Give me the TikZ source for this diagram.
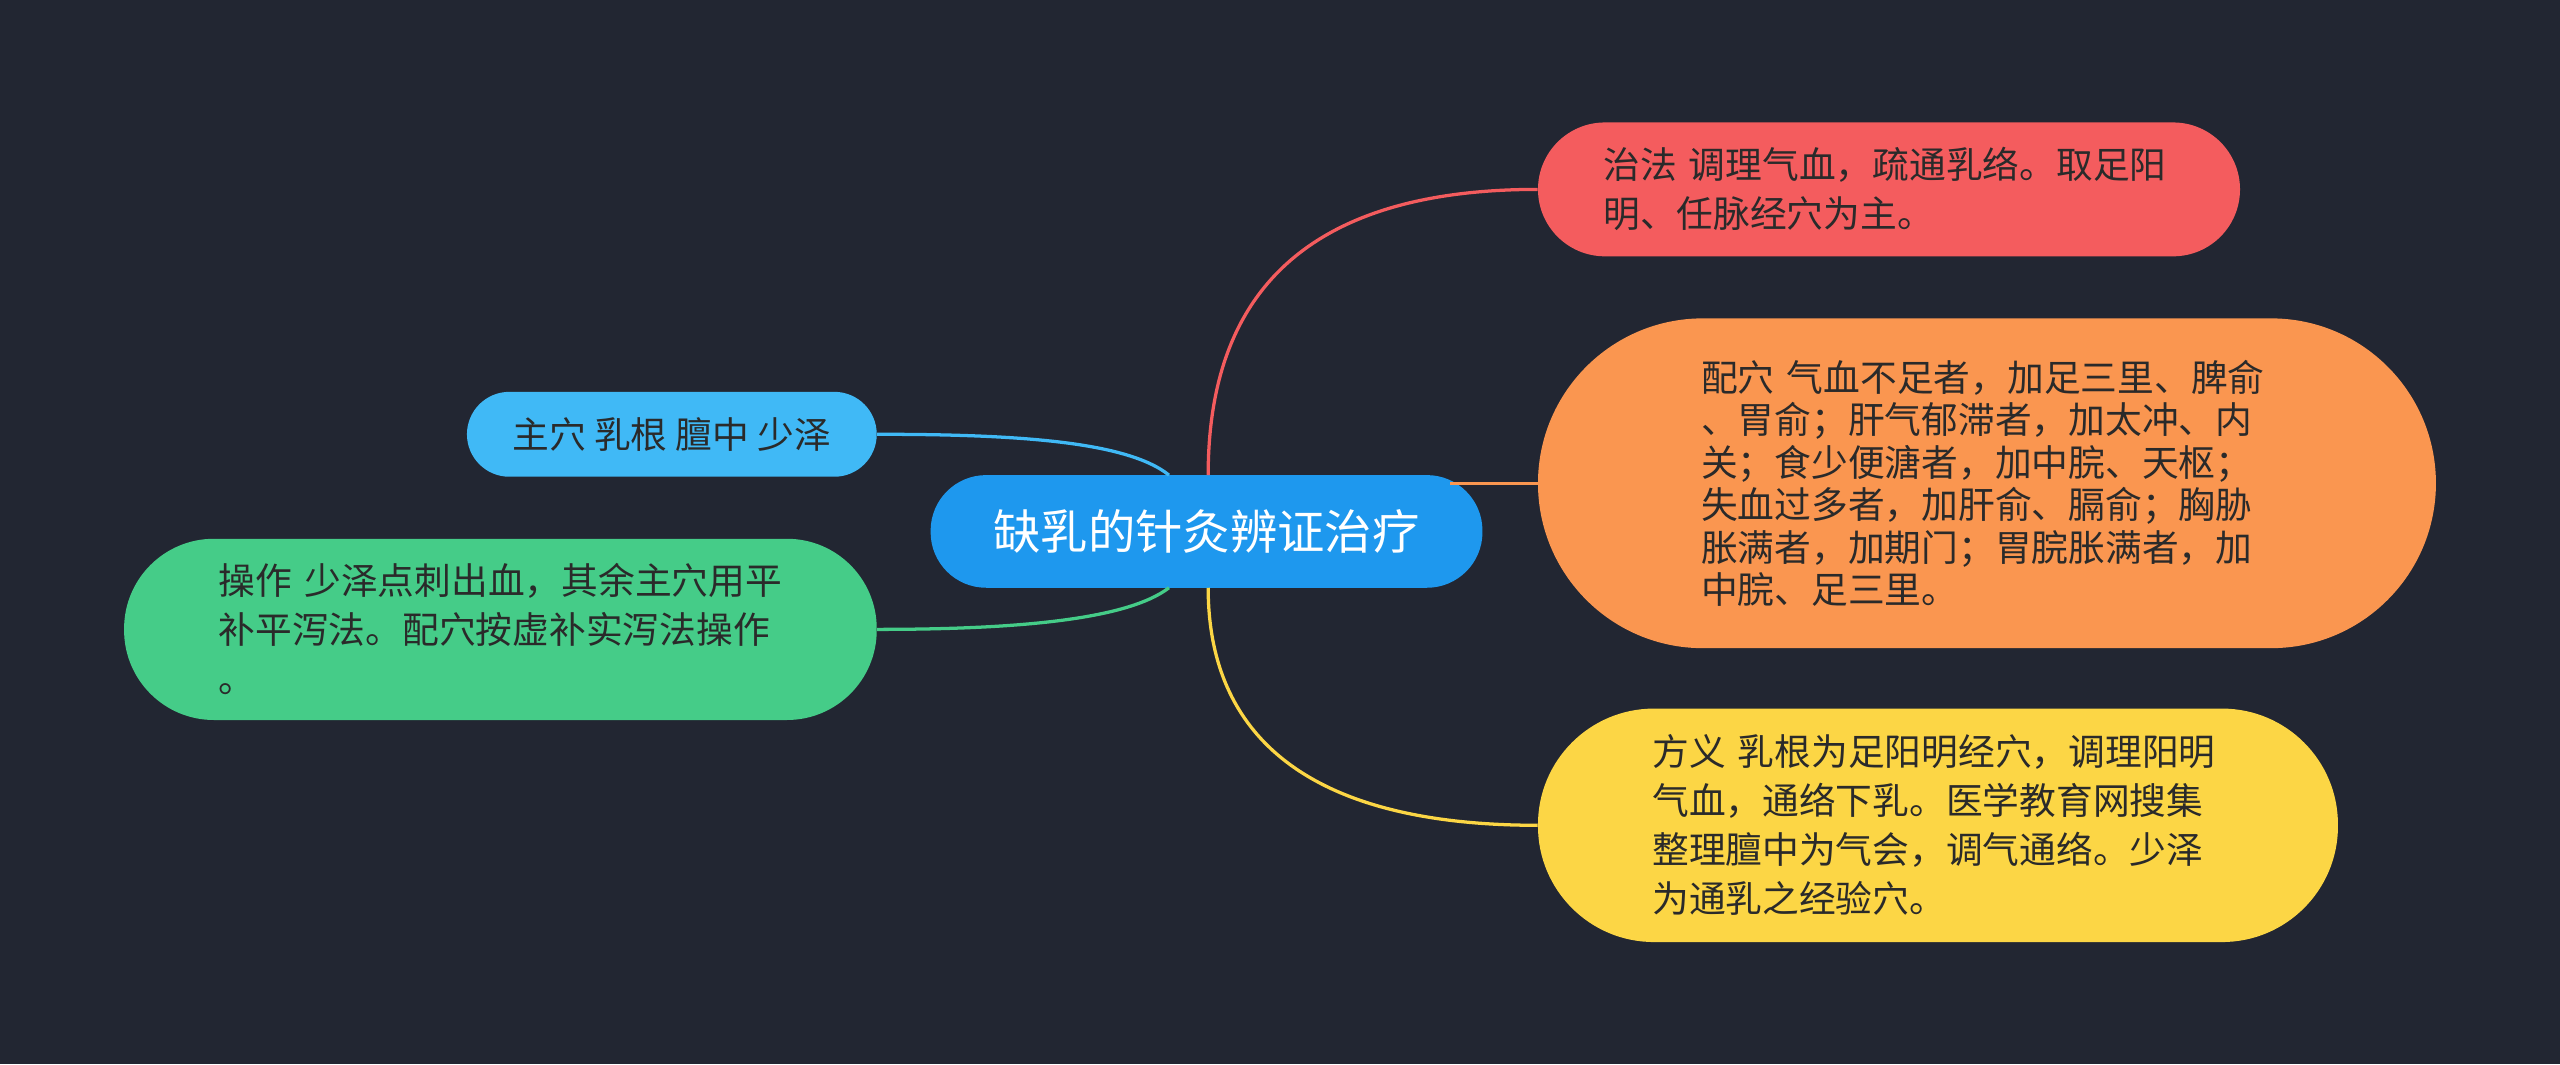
\documentclass[tikz,border=0pt]{standalone}
\usepackage{fontspec}
\setmainfont{Noto Sans CJK SC}
\definecolor{bg}{HTML}{222632}
\definecolor{cblue}{HTML}{1E98EE}
\definecolor{cred}{HTML}{F45C5E}
\definecolor{corange}{HTML}{FA9650}
\definecolor{cyellow}{HTML}{FCD645}
\definecolor{ccyan}{HTML}{40B9F6}
\definecolor{cgreen}{HTML}{45CC88}
\definecolor{tdark}{HTML}{2A2A2A}
\begin{document}
\begin{tikzpicture}[x=1pt,y=-1pt,
  leaf/.style={inner sep=0pt,align=left,text=tdark,font=\fontsize{22.5}{30}\selectfont},
  conn/.style={line width=2pt}]
\fill[bg] (0,0) rectangle (1568,652);
\useasboundingbox (0,0) rectangle (1568,652);
\node[fill=cblue,rounded corners=34pt,minimum width=338pt,minimum height=69pt,text=white,font=\fontsize{29}{32}\selectfont] (c) at (739,325.5) {缺乳的针灸辨证治疗};
\node[leaf,fill=cred,rounded corners=41pt,minimum width=430pt,minimum height=82pt,text width=350pt] (r) at (1157,116) {治法 调理气血，疏通乳络。取足阳\\明、任脉经穴为主。};
\node[leaf,fill=corange,rounded corners=101pt,minimum width=550pt,minimum height=202pt,text width=350pt,font=\fontsize{22.5}{26}\selectfont] (o) at (1217,296) {配穴 气血不足者，加足三里、脾俞\\、胃俞；肝气郁滞者，加太冲、内\\关；食少便溏者，加中脘、天枢；\\失血过多者，加肝俞、膈俞；胸胁\\胀满者，加期门；胃脘胀满者，加\\中脘、足三里。};
\node[leaf,fill=cyellow,rounded corners=71pt,minimum width=490pt,minimum height=143pt,text width=350pt] (y) at (1187,505.5) {方义 乳根为足阳明经穴，调理阳明\\气血，通络下乳。医学教育网搜集\\整理膻中为气会，调气通络。少泽\\为通乳之经验穴。};
\node[leaf,fill=ccyan,rounded corners=26pt,minimum width=251pt,minimum height=52pt,align=center] (k) at (411.5,266) {主穴 乳根 膻中 少泽};
\node[leaf,fill=cgreen,rounded corners=55pt,minimum width=461pt,minimum height=111pt,text width=345pt] (g) at (306.5,385.5) {操作 少泽点刺出血，其余主穴用平\\补平泻法。配穴按虚补实泻法操作\\。};
\draw[conn,cred] (740,291) .. controls (740,180) and (800,116) .. (r.west);
\draw[conn,corange] (888,296) -- (o.west);
\draw[conn,cyellow] (740,360) .. controls (740,450) and (800,505.5) .. (y.west);
\draw[conn,ccyan] (716,291) .. controls (690,270) and (620,266) .. (k.east);
\draw[conn,cgreen] (716,360) .. controls (690,380) and (620,385.5) .. (g.east);
\end{tikzpicture}
\end{document}
